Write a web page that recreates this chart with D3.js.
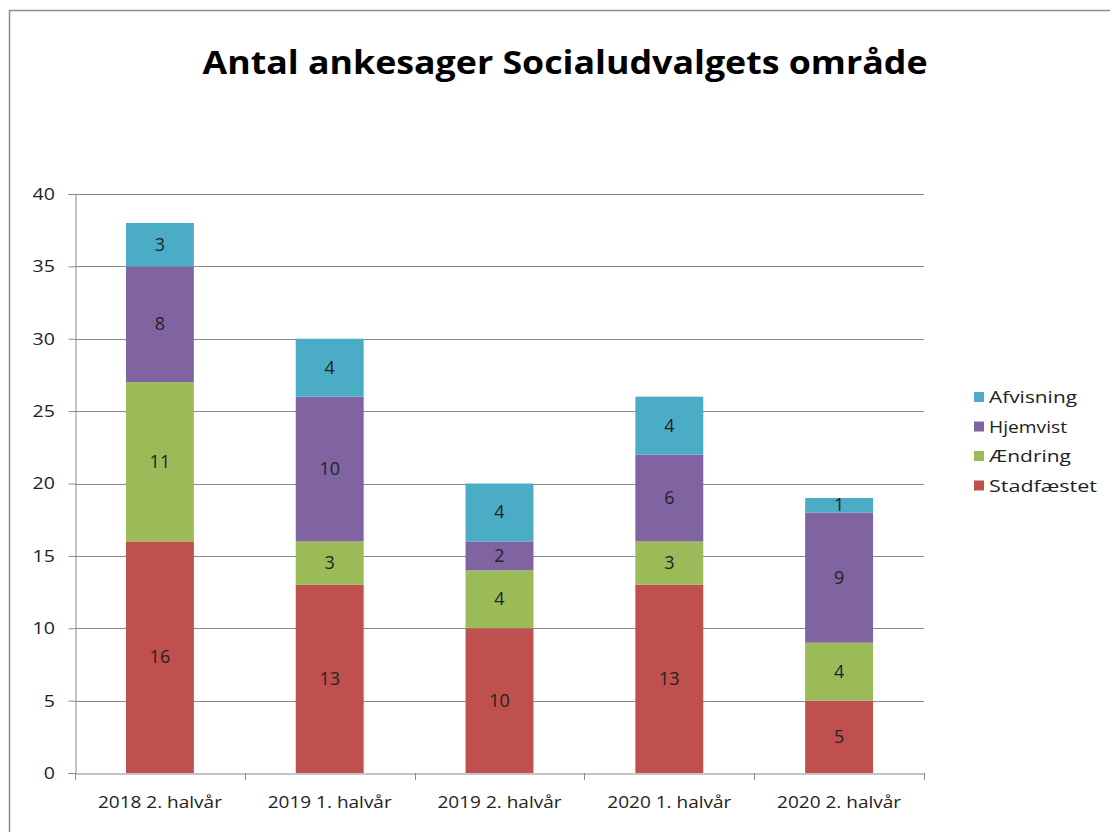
<!DOCTYPE html>
<html><head><meta charset="utf-8">
<script src="https://cdn.jsdelivr.net/npm/d3@7"></script>
<style>body{margin:0;background:#fff;}svg{display:block;}</style>
</head><body>
<svg id="c" width="1110" height="832"></svg>
<script>
const categories = ["2018 2. halvår","2019 1. halvår","2019 2. halvår","2020 1. halvår","2020 2. halvår"];
const seriesNames = ["Stadfæstet","Ændring","Hjemvist","Afvisning"];
const stadfaestet = [16,13,10,13,5];
const aendring = [11,3,4,3,4];
const hjemvist = [8,10,2,6,9];
const afvisning = [3,4,4,4,1];
const yTicks = [0,5,10,15,20,25,30,35,40];
const colors = ["#C0504D","#9BBB59","#8064A2","#4BACC6"];
const title = "Antal ankesager Socialudvalgets område";

const values = [stadfaestet, aendring, hjemvist, afvisning];
const table = categories.map((c,i)=>{const o={cat:c}; seriesNames.forEach((s,j)=>o[s]=values[j][i]); return o;});
const stacked = d3.stack().keys(seriesNames)(table);

const svg = d3.select("#c");
const font = "'Open Sans', 'Liberation Sans', sans-serif";
const fs = 17;
const L=75,R=924,T=194,B=773;
const x = d3.scaleBand().domain(categories).range([L,R]).paddingInner(0.6).paddingOuter(0.3);
const xb = d3.scaleBand().domain(categories).range([L,R]);
const y = d3.scaleLinear().domain([0,40]).range([B,T]);

// border
svg.append("rect").attr("x",9.5).attr("y",10.5).attr("width",1200).attr("height",900)
  .attr("fill","none").attr("stroke","#8c8c8c").attr("stroke-width",1.5);

// title
svg.append("text").attr("x",565).attr("y",74).attr("text-anchor","middle")
  .attr("font-family",font).attr("font-weight","bold").attr("font-size",33).attr("fill","#000")
  .attr("textLength",725).attr("lengthAdjust","spacingAndGlyphs").text(title);

// gridlines
svg.append("g").selectAll("line").data(yTicks.filter(d=>d>0)).join("line")
  .attr("x1",L).attr("x2",R).attr("y1",d=>Math.round(y(d))+0.5).attr("y2",d=>Math.round(y(d))+0.5)
  .attr("stroke","#8a8a8a").attr("stroke-width",1);

// y axis
const ya = svg.append("g").attr("transform",`translate(${L+0.5},0)`)
  .call(d3.axisLeft(y).tickValues(yTicks).tickSize(7).tickPadding(13));
ya.select(".domain").attr("stroke","#8a8a8a");
ya.selectAll(".tick line").attr("stroke","#8a8a8a");
ya.selectAll("text").attr("font-family",font).attr("font-size",fs).attr("fill","#222")
  .attr("transform","scale(1.15,1)").attr("x",-18);

// bars
const groups = svg.append("g").selectAll("g").data(stacked).join("g").attr("fill",(d,i)=>colors[i]);
groups.selectAll("rect").data(d=>d).join("rect")
  .attr("x",d=>x(d.data.cat)).attr("width",x.bandwidth())
  .attr("y",d=>y(d[1])).attr("height",d=>y(d[0])-y(d[1]));
// labels
svg.append("g").selectAll("g").data(stacked).join("g").selectAll("text").data(d=>d).join("text")
  .attr("x",d=>x(d.data.cat)+x.bandwidth()/2).attr("y",d=>(y(d[0])+y(d[1]))/2+6)
  .attr("text-anchor","middle").attr("font-family",font).attr("font-size",fs+1).attr("fill","#222")
  .text(d=>d[1]-d[0]);

// x axis
const xa = svg.append("g").attr("transform",`translate(0,${B+0.5})`)
  .call(d3.axisBottom(xb).tickSize(0).tickPadding(22));
xa.select(".domain").attr("stroke","#8a8a8a");
xa.selectAll("text").attr("font-family",font).attr("font-size",fs).attr("fill","#222")
  .attr("textLength",124).attr("lengthAdjust","spacingAndGlyphs");
svg.append("g").selectAll("line").data(d3.range(categories.length+1)).join("line")
  .attr("x1",i=>Math.round(L+i*xb.step())+0.5).attr("x2",i=>Math.round(L+i*xb.step())+0.5)
  .attr("y1",B).attr("y2",B+7).attr("stroke","#8a8a8a");

// legend
const leg = svg.append("g");
const legOrder = [3,2,1,0];
const legW = [88,78,82,108];
legOrder.forEach((si,k)=>{
  const yy = 397 + k*29.5;
  leg.append("rect").attr("x",974).attr("y",yy-5).attr("width",10).attr("height",10).attr("fill",colors[si]);
  leg.append("text").attr("x",989).attr("y",yy+6).attr("font-family",font).attr("font-size",fs).attr("fill","#222")
    .attr("textLength",legW[k]).attr("lengthAdjust","spacingAndGlyphs").text(seriesNames[si]);
});
</script>
</body></html>
